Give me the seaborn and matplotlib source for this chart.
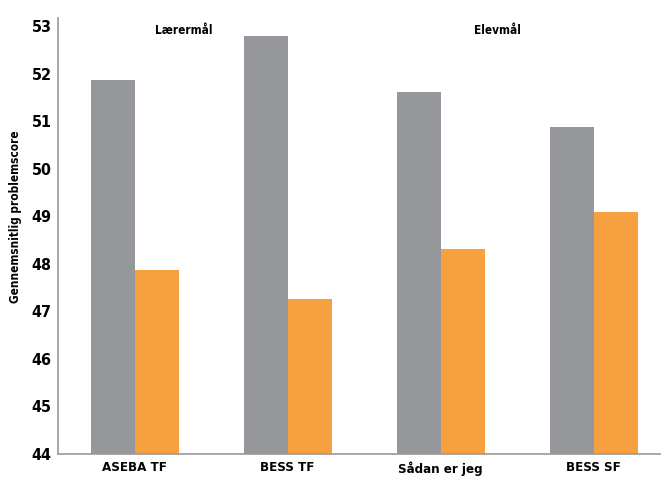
import matplotlib
matplotlib.use('Agg')
import matplotlib.pyplot as plt
import pandas as pd
import seaborn as sns
from matplotlib.ticker import FixedLocator

categories = ['ASEBA TF', 'BESS TF', 'Sådan er jeg', 'BESS SF']
series_names = ['Gruppe 1', 'Gruppe 2']
grey_values = [51.86, 52.79, 51.61, 50.88]
orange_values = [47.87, 47.26, 48.31, 49.09]
group_labels = ['Lærermål', 'Elevmål']
y_label = 'Gennemsnitlig problemscore'

df = pd.DataFrame({
    'kategori': categories * 2,
    'serie': [series_names[0]] * 4 + [series_names[1]] * 4,
    'score': grey_values + orange_values,
})

sns.set_style('white')
plt.rcParams['font.family'] = ['DejaVu Sans']
plt.rcParams['font.stretch'] = 'condensed'
plt.rcParams['font.weight'] = 'bold'
plt.rcParams['text.color'] = 'black'
plt.rcParams['axes.labelcolor'] = 'black'
plt.rcParams['xtick.color'] = 'black'
plt.rcParams['ytick.color'] = 'black'

fig = plt.figure(figsize=(6.61, 4.78), dpi=100)
ax = fig.add_axes([58 / 661, 24 / 478, 1 - 58 / 661, 436 / 478])

sns.barplot(data=df, x='kategori', y='score', hue='serie', hue_order=series_names,
            order=categories, palette=['#96979b', '#f7a040'], width=0.575,
            saturation=1, legend=False, linewidth=0, ax=ax)

ax.set_ylim(44, 53.17)
ax.set_xlim(-0.5, 3.44)
ax.set_yticks(range(44, 54))
ax.set_xlabel('')
ax.set_ylabel(y_label, fontsize=8.5, fontweight='bold')
ax.yaxis.set_label_coords(-0.06, 0.545)

for side in ['top', 'right']:
    ax.spines[side].set_visible(False)
for side in ['left', 'bottom']:
    ax.spines[side].set_color('#9a9a9a')
    ax.spines[side].set_linewidth(1.2)

ax.tick_params(axis='y', length=3, width=1, color='#9a9a9a', labelsize=11.5, pad=1.5)
ax.tick_params(axis='x', which='major', length=0, labelsize=9.5, pad=5)
ax.xaxis.set_minor_locator(FixedLocator([0.5, 1.5, 2.5]))
ax.tick_params(axis='x', which='minor', length=4, width=1, color='#9a9a9a', direction='out')
for lab in ax.get_xticklabels() + ax.get_yticklabels():
    lab.set_fontweight('bold')
    lab.set_fontstretch('condensed')

ax.text(0.32, 52.9, group_labels[0], ha='center', va='center', fontsize=8.5, fontweight='bold')
ax.text(2.37, 52.9, group_labels[1], ha='center', va='center', fontsize=8.5, fontweight='bold')

fig.savefig('out.png', dpi=100)
